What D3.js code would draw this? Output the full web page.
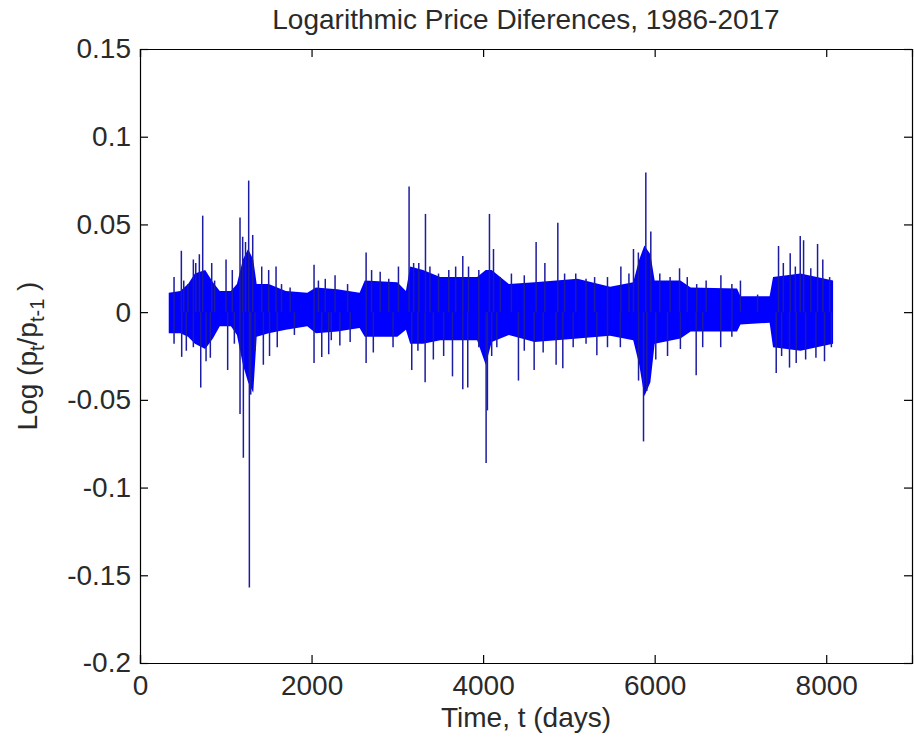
<!DOCTYPE html>
<html>
<head>
<meta charset="utf-8">
<script src="https://cdn.jsdelivr.net/npm/d3@7"></script>
<style>
  body { margin: 0; background: #fff; }
  svg text { font-family: "Liberation Sans", Arial, sans-serif; fill: #2a2a2a; }
</style>
</head>
<body>
<div id="chart"></div>
<script>
// dense core of the series, read per stretch of days
var bandDays  = [335, 470, 560, 640, 760, 850, 930, 1060, 1130, 1200, 1260, 1320, 1360, 1500, 1700, 1950, 2050, 2300, 2560, 2620, 3000, 3100, 3150, 3300, 3500, 3930, 4030, 4100, 4300, 4600, 5100, 5480, 5750, 5820, 5880, 5950, 6000, 6300, 6420, 6960, 7000, 7340, 7380, 7700, 8080];
var bandUpper = [0.011, 0.012, 0.016, 0.022, 0.024, 0.017, 0.012, 0.012, 0.016, 0.030, 0.036, 0.030, 0.016, 0.016, 0.012, 0.011, 0.014, 0.013, 0.011, 0.018, 0.017, 0.012, 0.026, 0.024, 0.020, 0.020, 0.024, 0.024, 0.016, 0.017, 0.019, 0.0145, 0.017, 0.030, 0.038, 0.033, 0.018, 0.018, 0.014, 0.0135, 0.009, 0.009, 0.020, 0.022, 0.018];
var bandLower = [-0.012, -0.012, -0.014, -0.018, -0.021, -0.015, -0.008, -0.008, -0.013, -0.030, -0.040, -0.046, -0.014, -0.012, -0.010, -0.008, -0.012, -0.011, -0.009, -0.014, -0.014, -0.010, -0.018, -0.018, -0.016, -0.016, -0.030, -0.017, -0.013, -0.017, -0.015, -0.0135, -0.016, -0.030, -0.048, -0.040, -0.018, -0.015, -0.011, -0.011, -0.007, -0.006, -0.020, -0.022, -0.018];

// isolated spikes (day, log difference)
var spikeDays = [397, 482, 510, 560, 622, 650, 692, 731, 836, 870, 1003, 1076, 1166, 1197, 1230, 1267, 1314, 1419, 1500, 1586, 1650, 1750, 2029, 2080, 2160, 2274, 2420, 2636, 2700, 2800, 2900, 3013, 3137, 3190, 3250, 3328, 3380, 3480, 3600, 3680, 3763, 3830, 3950, 4074, 4121, 4200, 4330, 4480, 4618, 4720, 4871, 4950, 5080, 5200, 5300, 5450, 5606, 5700, 5753, 5810, 5897, 5955, 6060, 6180, 6290, 6380, 6490, 6600, 6772, 6900, 7000, 7200, 7444, 7500, 7580, 7640, 7697, 7736, 7820, 7899, 7960, 8040,
  397, 486, 540, 622, 708, 770, 820, 1022, 1100, 1166, 1205, 1275, 1291, 1340, 1438, 1510, 1600, 1800, 2029, 2119, 2200, 2230, 2330, 2450, 2636, 2720, 2950, 3168, 3240, 3324, 3420, 3540, 3643, 3763, 3821, 3950, 4035, 4050, 4100, 4160, 4412, 4480, 4595, 4700, 4851, 4929, 5050, 5200, 5326, 5450, 5600, 5812, 5870, 5908, 6013, 6150, 6300, 6484, 6560, 6770, 6900, 7417, 7480, 7572, 7650, 7760, 7880, 7980, 8060];
var spikeValues = [0.020, 0.035, 0.018, 0.016, 0.030, 0.028, 0.033, 0.055, 0.028, 0.018, 0.030, 0.024, 0.054, 0.043, 0.040, 0.075, 0.044, 0.026, 0.024, 0.026, 0.016, 0.014, 0.027, 0.018, 0.019, 0.021, 0.016, 0.034, 0.024, 0.023, 0.019, 0.026, 0.0716, 0.028, 0.028, 0.056, 0.026, 0.022, 0.024, 0.026, 0.032, 0.026, 0.024, 0.056, 0.036, 0.020, 0.022, 0.021, 0.040, 0.028, 0.051, 0.022, 0.022, 0.019, 0.020, 0.020, 0.026, 0.022, 0.036, 0.034, 0.0796, 0.046, 0.022, 0.020, 0.025, 0.020, 0.016, 0.018, 0.021, 0.016, 0.018, 0.010, 0.0377, 0.028, 0.0335, 0.026, 0.0434, 0.041, 0.025, 0.0389, 0.030, 0.020,
  -0.018, -0.0255, -0.022, -0.020, -0.043, -0.028, -0.026, -0.033, -0.018, -0.058, -0.083, -0.157, -0.047, -0.022, -0.030, -0.025, -0.020, -0.013, -0.029, -0.0255, -0.024, -0.016, -0.019, -0.017, -0.029, -0.023, -0.020, -0.033, -0.022, -0.040, -0.027, -0.025, -0.0366, -0.044, -0.043, -0.020, -0.086, -0.056, -0.025, -0.020, -0.039, -0.022, -0.033, -0.023, -0.030, -0.032, -0.020, -0.018, -0.0246, -0.020, -0.020, -0.039, -0.0737, -0.045, -0.027, -0.025, -0.021, -0.036, -0.020, -0.020, -0.014, -0.0347, -0.025, -0.0316, -0.029, -0.027, -0.026, -0.028, -0.020];

var xTicks = [0, 2000, 4000, 6000, 8000];
var yTicks = [0.15, 0.1, 0.05, 0, -0.05, -0.1, -0.15, -0.2];

var W = 914, H = 740;
var m = { left: 140, right: 2, top: 49, bottom: 77 };
var iw = W - m.left - m.right, ih = H - m.top - m.bottom;

var x = d3.scaleLinear().domain([0, 9000]).range([0, iw]);
var y = d3.scaleLinear().domain([-0.2, 0.15]).range([ih, 0]);

var svg = d3.select("#chart").append("svg")
  .attr("width", W)
  .attr("height", H);

var g = svg.append("g").attr("transform", "translate(" + m.left + "," + m.top + ")");

// core band
var band = bandDays.map(function (d, i) { return [d, bandUpper[i], bandLower[i]]; });
g.append("path")
  .datum(band)
  .attr("fill", "#0000ff")
  .attr("d", d3.area()
    .x(function (d) { return x(d[0]); })
    .y0(function (d) { return y(d[2]); })
    .y1(function (d) { return y(d[1]); }));

// spikes
g.selectAll("line.spike")
  .data(spikeDays.map(function (d, i) { return [d, spikeValues[i]]; }))
  .enter()
  .append("line")
  .attr("class", "spike")
  .attr("x1", function (d) { return x(d[0]); })
  .attr("x2", function (d) { return x(d[0]); })
  .attr("y1", y(0))
  .attr("y2", function (d) { return y(d[1]); })
  .attr("stroke", "#1c1ca0")
  .attr("stroke-width", 1.5);

// axes, ticks inward on all sides
var fmt = function (d) { return String(d); };
g.append("g").attr("transform", "translate(0," + ih + ")")
  .call(d3.axisBottom(x).tickValues(xTicks).tickSize(-8).tickPadding(12).tickFormat(fmt));
g.append("g")
  .call(d3.axisTop(x).tickValues(xTicks).tickSize(-8).tickFormat(""));
g.append("g")
  .call(d3.axisLeft(y).tickValues(yTicks).tickSize(-8).tickPadding(9).tickFormat(fmt));
g.append("g").attr("transform", "translate(" + iw + ",0)")
  .call(d3.axisRight(y).tickValues(yTicks).tickSize(-8).tickFormat(""));

g.selectAll(".domain").attr("stroke", "#000").attr("stroke-width", 1.2);
g.selectAll(".tick line").attr("stroke", "#000").attr("stroke-width", 1.2);
g.selectAll(".tick text")
  .attr("font-family", "Liberation Sans, Arial, sans-serif")
  .attr("font-size", "28px")
  .attr("fill", "#2a2a2a");

// title
svg.append("text")
  .attr("x", m.left + iw / 2)
  .attr("y", 29)
  .attr("text-anchor", "middle")
  .attr("font-size", "28px")
  .text("Logarithmic Price Diferences, 1986-2017");

// x label
svg.append("text")
  .attr("x", m.left + iw / 2)
  .attr("y", 727)
  .attr("text-anchor", "middle")
  .attr("font-size", "28px")
  .text("Time, t (days)");

// y label with subscripts
var yl = svg.append("text")
  .attr("transform", "translate(37," + (m.top + ih / 2) + ") rotate(-90)")
  .attr("text-anchor", "middle")
  .attr("font-size", "28px");
yl.append("tspan").text("Log (p");
yl.append("tspan").attr("font-size", "20px").attr("dy", 7).text("t");
yl.append("tspan").attr("dy", -7).text("/p");
yl.append("tspan").attr("font-size", "20px").attr("dy", 7).text("t-1");
yl.append("tspan").attr("dy", -7).text(" )");
</script>
</body>
</html>
